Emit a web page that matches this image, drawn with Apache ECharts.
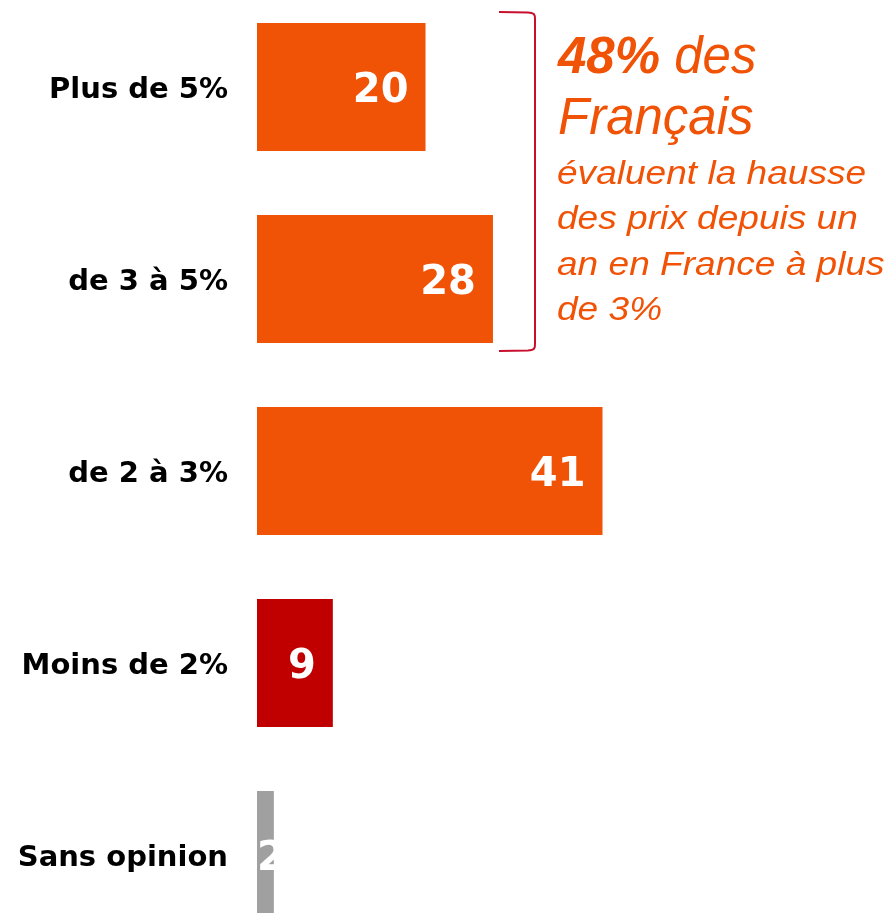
<!DOCTYPE html>
<html>
<head>
<meta charset="utf-8">
<script src="https://cdn.jsdelivr.net/npm/echarts@6/dist/echarts.min.js"></script>
<style>
html,body{margin:0;padding:0;background:#fff;}
#chart{width:891px;height:913px;}
</style>
</head>
<body>
<div id="chart"></div>
<script>
// Data
var categories = ['Plus de 5%', 'de 3 à 5%', 'de 2 à 3%', 'Moins de 2%', 'Sans opinion'];
var values = [20, 28, 41, 9, 2];
var barColors = ['#F05206', '#F05206', '#F05206', '#C00000', '#A0A0A0'];
var annotationLines = ['évaluent la hausse', 'des prix depuis un', 'an en France à plus', 'de 3%'];

var chart = echarts.init(document.getElementById('chart'), null, {renderer: 'canvas'});

var seriesData = values.map(function (v, i) {
  var item = { value: v, itemStyle: { color: barColors[i] } };
  if (i === values.length - 1) {
    item.label = { position: 'insideLeft', distance: 0 };
  }
  return item;
});

var orange = '#F05206';
var smallFs = 34, smallScale = 1.09;
var baselines = [187, 232, 278, 323];
var graphics = [
  {
    type: 'polyline',
    shape: { points: [[499, 12], [528, 12.4], [531.5, 12.9], [533.8, 14], [534.8, 16], [535, 19],
                      [535, 344], [534.8, 347], [533.8, 349], [531.5, 350.1], [528, 350.5], [499, 351]] },
    style: { stroke: '#C8102E', lineWidth: 2, fill: null }
  },
  {
    type: 'text', x: 558, y: 77 - 0.36 * 51,
    style: {
      text: '{b|48%}{n| des}',
      verticalAlign: 'middle',
      rich: {
        b: { fontFamily: 'Liberation Sans', fontSize: 51, fontWeight: 'bold', fontStyle: 'italic', fill: orange },
        n: { fontFamily: 'Liberation Sans', fontSize: 51, fontStyle: 'italic', fill: orange }
      }
    }
  },
  {
    type: 'text', x: 558, y: 138 - 0.36 * 51,
    style: { text: 'Français', font: 'italic 51px "Liberation Sans"', fill: orange, verticalAlign: 'middle' }
  }
];
annotationLines.forEach(function (t, i) {
  graphics.push({
    type: 'text', x: 557, y: baselines[i] - 0.36 * smallFs, scaleX: smallScale,
    style: { text: t, font: 'italic ' + smallFs + 'px "Liberation Sans"', fill: orange, verticalAlign: 'middle' }
  });
});

chart.setOption({
  animation: false,
  backgroundColor: '#ffffff',
  grid: { left: 257, top: -9, width: 632, height: 960, containLabel: false, outerBoundsMode: 'none' },
  xAxis: {
    type: 'value', min: 0, max: 75, show: false
  },
  yAxis: {
    type: 'category',
    data: categories,
    inverse: true,
    axisLine: { show: false },
    axisTick: { show: false },
    splitLine: { show: false },
    axisLabel: {
      margin: 29,
      color: '#000000',
      fontFamily: 'DejaVu Sans',
      fontWeight: 'bold',
      fontSize: 29,
      verticalAlign: 'top',
      lineHeight: 7
    }
  },
  series: [{
    type: 'bar',
    data: seriesData,
    barWidth: 128,
    label: {
      show: true,
      position: 'insideRight',
      distance: 17,
      offset: [0, 5],
      color: '#ffffff',
      fontFamily: 'DejaVu Sans',
      fontWeight: 'bold',
      fontSize: 40
    }
  }],
  graphic: graphics
});
</script>
</body>
</html>
